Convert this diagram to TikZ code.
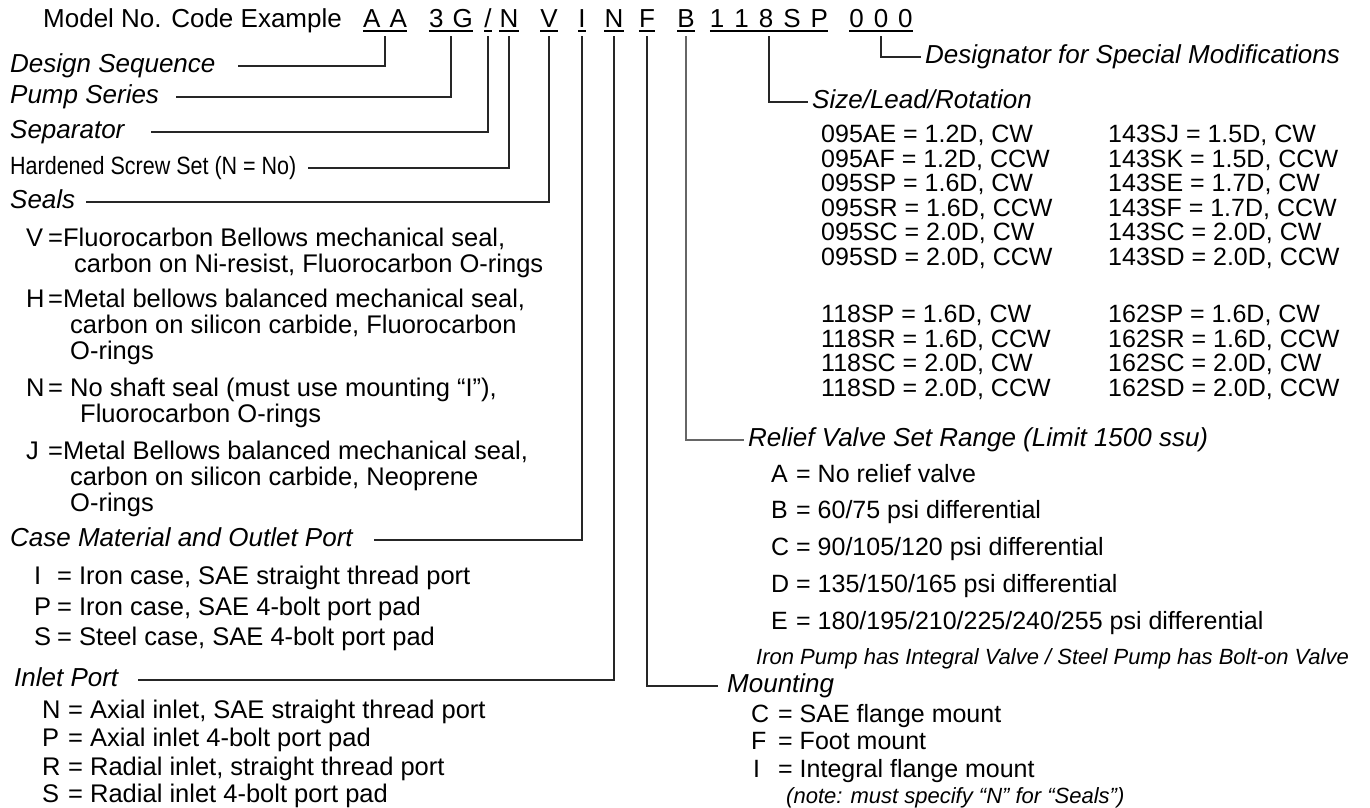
\documentclass[tikz,border=0pt]{standalone}
\usepackage{fontspec}
\setmainfont{Liberation Sans}
\newfontfamily\narrowfont[FakeStretch=0.86]{Liberation Sans}
\tikzset{
  conn/.style={draw=black!85, line width=1.2pt},
  gconn/.style={draw=black!60, line width=1.2pt},
  uline/.style={draw=black, line width=1.1pt},
  title/.style={anchor=base west, inner sep=0pt, font=\fontsize{26}{30}\selectfont},
  code/.style={anchor=base, inner sep=0pt, font=\fontsize{26}{30}\selectfont},
  head/.style={anchor=west, inner sep=0pt, text height=19.5pt, text depth=6.5pt, font=\fontsize{26}{30}\selectfont\itshape},
  nhead/.style={anchor=west, inner sep=0pt, text height=19pt, text depth=6pt, font=\fontsize{25}{30}\selectfont\narrowfont},
  body/.style={anchor=base west, inner sep=0pt, font=\fontsize{25.5}{28}\selectfont},
  rbody/.style={anchor=base west, inner sep=0pt, font=\fontsize{25}{28}\selectfont},
  note/.style={anchor=base west, inner sep=0pt, font=\fontsize{22}{26}\selectfont\itshape},
}
\begin{document}
\begin{tikzpicture}[x=1pt,y=-1pt]
\fill[white] (0,0) rectangle (1370,807);
\useasboundingbox (0,0) rectangle (1370,807);

% ---- header
\node[title] (title) at (43,27) {Model No. Code Example};
\node[code] (cAA) at (385,27) {A\hspace{9pt}A};
\node[code] (c3G) at (451,27) {3\hspace{9pt}G};
\node[code] (cSl) at (488,27) {/};
\node[code] (cN1) at (509,27) {N};
\node[code] (cV) at (549,27) {V};
\node[code] (cI) at (582,27) {I};
\node[code] (cN2) at (614,27) {N};
\node[code] (cF) at (647,27) {F};
\node[code] (cB) at (686,27) {B};
\node[code] (cSz) at (769,27) {1\hspace{10pt}1\hspace{10pt}8\hspace{10pt}S\hspace{10pt}P};
\node[code] (cZ) at (881,27) {0\hspace{10pt}0\hspace{10pt}0};
\foreach \n in {cAA,c3G,cSl,cN1,cV,cI,cN2,cF,cB,cSz,cZ}
  \draw[uline] ([yshift=-4pt]\n.base west) -- ([yshift=-4pt]\n.base east);

% ---- left headings
\node[head] (hDS) at (10,66) {Design Sequence};
\node[head] (hPS) at (10,97) {Pump Series};
\node[head] (hSep) at (10,132) {Separator};
\node[nhead] (hHS) at (10,168) {Hardened Screw Set (N = No)};
\node[head] (hSe) at (10,202) {Seals};
\node[head] (hCM) at (10,540) {Case Material and Outlet Port};
\node[head] (hIP) at (14,680) {Inlet Port};

\coordinate (eDS) at (238,66);
\coordinate (ePS) at (176,97);
\coordinate (eSep) at (151,132);
\coordinate (eHS) at (308,168);
\coordinate (eSe) at (86,202);
\coordinate (eCM) at (374,540);
\coordinate (eIP) at (138,680);

\draw[conn] ([yshift=-9pt]cAA.base) |- (eDS);
\draw[conn] ([yshift=-9pt]c3G.base) |- (ePS);
\draw[conn] ([yshift=-9pt]cSl.base) |- (eSep);
\draw[conn] ([yshift=-9pt]cN1.base) |- (eHS);
\draw[conn] ([yshift=-9pt]cV.base) |- (eSe);
\draw[conn] ([yshift=-9pt]cI.base) |- (eCM);
\draw[conn] ([yshift=-9pt]cN2.base) |- (eIP);

% ---- seals
\node[body] (sV) at (26,246) {V};
\node[body] (sVt) at (48,246) {=Fluorocarbon Bellows mechanical seal,};
\node[body] (sV2) at (74,272) {carbon on Ni-resist, Fluorocarbon O-rings};
\node[body] (sH) at (26,307) {H};
\node[body] (sHt) at (48,307) {=Metal bellows balanced mechanical seal,};
\node[body] (sH2) at (70,333) {carbon on silicon carbide, Fluorocarbon};
\node[body] (sH3) at (70,359) {O-rings};
\node[body] (sN) at (26,396) {N};
\node[body] (sNt) at (48,396) {= No shaft seal (must use mounting “I”),};
\node[body] (sN2) at (80,422) {Fluorocarbon O-rings};
\node[body] (sJ) at (26,459) {J};
\node[body] (sJt) at (48,459) {=Metal Bellows balanced mechanical seal,};
\node[body] (sJ2) at (70,485) {carbon on silicon carbide, Neoprene};
\node[body] (sJ3) at (70,511) {O-rings};

% ---- case material
\node[body] (mI) at (34,584) {I};
\node[body] (mIt) at (57,584) {= Iron case, SAE straight thread port};
\node[body] (mP) at (34,615) {P};
\node[body] (mPt) at (57,615) {= Iron case, SAE 4-bolt port pad};
\node[body] (mS) at (34,645) {S};
\node[body] (mSt) at (57,645) {= Steel case, SAE 4-bolt port pad};

% ---- inlet port
\node[body] (iN) at (42,718) {N};
\node[body] (iNt) at (68,718) {= Axial inlet, SAE straight thread port};
\node[body] (iP) at (42,746) {P};
\node[body] (iPt) at (68,746) {= Axial inlet 4-bolt port pad};
\node[body] (iR) at (42,775) {R};
\node[body] (iRt) at (68,775) {= Radial inlet, straight thread port};
\node[body] (iS) at (42,802) {S};
\node[body] (iSt) at (68,802) {= Radial inlet 4-bolt port pad};

% ---- right headings
\node[head] (hDes) at (925,57) {Designator for Special Modifications};
\node[head] (hSz) at (812,102) {Size/Lead/Rotation};
\node[head] (hRV) at (748,440) {Relief Valve Set Range (Limit 1500 ssu)};
\node[head] (hMt) at (727,686) {Mounting};

\draw[conn] ([yshift=-9pt]cZ.base) |- ([xshift=-4pt]hDes.west);
\draw[conn] ([yshift=-9pt]cSz.base) |- ([xshift=-4pt]hSz.west);
\draw[gconn] ([yshift=-9pt]cB.base) |- ([xshift=-4pt]hRV.west);
\draw[conn] ([yshift=-9pt]cF.base) |- ([xshift=-9pt]hMt.west);

% ---- size table
\node[rbody] (a1) at (821,142) {095AE = 1.2D, CW};
\node[rbody] (a2) at (821,167) {095AF = 1.2D, CCW};
\node[rbody] (a3) at (821,191) {095SP = 1.6D, CW};
\node[rbody] (a4) at (821,216) {095SR = 1.6D, CCW};
\node[rbody] (a5) at (821,240) {095SC = 2.0D, CW};
\node[rbody] (a6) at (821,265) {095SD = 2.0D, CCW};
\node[rbody] (b1) at (1108,142) {143SJ = 1.5D, CW};
\node[rbody] (b2) at (1108,167) {143SK = 1.5D, CCW};
\node[rbody] (b3) at (1108,191) {143SE = 1.7D, CW};
\node[rbody] (b4) at (1108,216) {143SF = 1.7D, CCW};
\node[rbody] (b5) at (1108,240) {143SC = 2.0D, CW};
\node[rbody] (b6) at (1108,265) {143SD = 2.0D, CCW};
\node[rbody] (a7) at (821,322) {118SP = 1.6D, CW};
\node[rbody] (a8) at (821,347) {118SR = 1.6D, CCW};
\node[rbody] (a9) at (821,371) {118SC = 2.0D, CW};
\node[rbody] (a10) at (821,396) {118SD = 2.0D, CCW};
\node[rbody] (b7) at (1108,322) {162SP = 1.6D, CW};
\node[rbody] (b8) at (1108,347) {162SR = 1.6D, CCW};
\node[rbody] (b9) at (1108,371) {162SC = 2.0D, CW};
\node[rbody] (b10) at (1108,396) {162SD = 2.0D, CCW};

% ---- relief valve
\node[rbody] (rA) at (771,482) {A};
\node[rbody] (rAt) at (796,482) {= No relief valve};
\node[rbody] (rB) at (771,518) {B};
\node[rbody] (rBt) at (796,518) {= 60/75 psi differential};
\node[rbody] (rC) at (771,555) {C};
\node[rbody] (rCt) at (796,555) {= 90/105/120 psi differential};
\node[rbody] (rD) at (771,592) {D};
\node[rbody] (rDt) at (796,592) {= 135/150/165 psi differential};
\node[rbody] (rE) at (771,629) {E};
\node[rbody] (rEt) at (796,629) {= 180/195/210/225/240/255 psi differential};
\node[note] (rNote) at (756,664) {Iron Pump has Integral Valve / Steel Pump has Bolt-on Valve};

% ---- mounting
\node[rbody] (tC) at (751,722) {C};
\node[rbody] (tCt) at (778,722) {= SAE flange mount};
\node[rbody] (tF) at (751,749) {F};
\node[rbody] (tFt) at (778,749) {= Foot mount};
\node[rbody] (tI) at (753,777) {I};
\node[rbody] (tIt) at (778,777) {= Integral flange mount};
\node[note] (tNote) at (786,803) {(note: must specify “N” for “Seals”)};
\end{tikzpicture}
\end{document}
